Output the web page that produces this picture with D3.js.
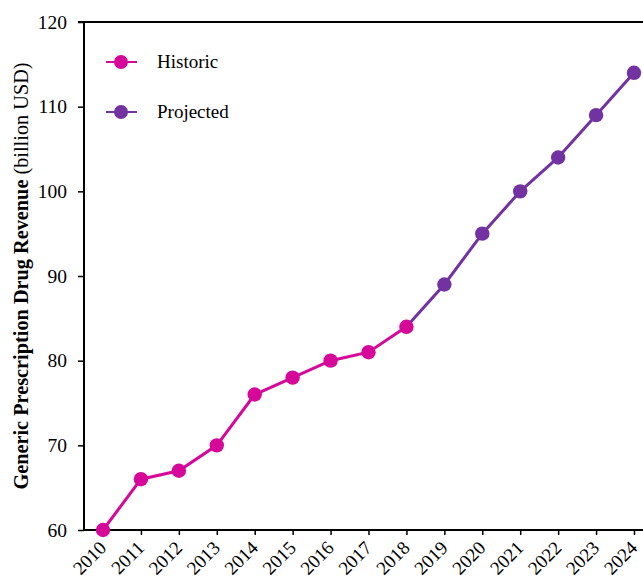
<!DOCTYPE html>
<html><head><meta charset="utf-8">
<script src="https://cdn.jsdelivr.net/npm/d3@7"></script>
<style>body{margin:0;background:#fff}svg{display:block}text{font-family:"Liberation Serif","Times New Roman",serif}</style>
</head><body>
<svg id="c" width="643" height="581"></svg>
<script>
const years = [2010,2011,2012,2013,2014,2015,2016,2017,2018,2019,2020,2021,2022,2023,2024];
const historicYears = [2010,2011,2012,2013,2014,2015,2016,2017,2018];
const historicValues = [60,66,67,70,76,78,80,81,84];
const projectedYears = [2018,2019,2020,2021,2022,2023,2024];
const projectedValues = [84,89,95,100,104,109,114];
const yTicks = [60,70,80,90,100,110,120];
const seriesNames = ["Historic","Projected"];
const colors = ["#d6089a","#7232a1"];

(function(){
const svg = d3.select("#c");
const mL=84, mT=22, mB=530, mR=672;
const x = d3.scalePoint().domain(years).range([103,634]);
const y = d3.scaleLinear().domain([60,120]).range([mB,mT]);

svg.append("line").attr("x1",mL).attr("x2",mR).attr("y1",mT).attr("y2",mT).attr("stroke","#000").attr("stroke-width",2);

const ya = svg.append("g").attr("transform",`translate(${mL},0)`).call(d3.axisLeft(y).tickValues(yTicks).tickSize(6).tickPadding(11));
ya.select(".domain").attr("stroke-width",2).attr("d",`M-6,${mT}H0V${mB}`);
ya.selectAll(".tick line").attr("stroke-width",1.5);
ya.selectAll(".tick text").attr("font-size",19.5).attr("fill","#000").style("font-family","Liberation Serif");

const xa = svg.append("g").attr("transform",`translate(0,${mB})`).call(d3.axisBottom(x).tickSize(5));
xa.select(".domain").attr("stroke-width",2).attr("d",`M${mL},0H${mR}`);
xa.selectAll(".tick line").attr("stroke-width",1.5);
xa.selectAll(".tick text").attr("font-size",19).attr("fill","#000").style("font-family","Liberation Serif")
  .attr("text-anchor","end").attr("dy","0").attr("y",0).attr("transform","translate(4,19) rotate(-45)");

const series = [
  {name:seriesNames[0], xs:historicYears, vs:historicValues, color:colors[0]},
  {name:seriesNames[1], xs:projectedYears, vs:projectedValues, color:colors[1]}
];
const line = d3.line().x(d=>x(d[0])).y(d=>y(d[1]));
[series[1], series[0]].forEach(s=>{
  const pts = s.xs.map((v,i)=>[v,s.vs[i]]);
  svg.append("path").datum(pts).attr("d",line).attr("fill","none").attr("stroke",s.color).attr("stroke-width",3);
  svg.selectAll(null).data(s.name==="Projected"?pts.slice(1):pts).enter().append("circle")
    .attr("cx",d=>x(d[0])).attr("cy",d=>y(d[1])).attr("r",7.2).attr("fill",s.color);
});

series.forEach((s,i)=>{
  const ly = 62 + i*50;
  svg.append("line").attr("x1",106).attr("x2",137).attr("y1",ly).attr("y2",ly).attr("stroke",s.color).attr("stroke-width",2);
  svg.append("circle").attr("cx",121).attr("cy",ly).attr("r",7).attr("fill",s.color);
  svg.append("text").attr("x",157).attr("y",ly+6).attr("font-size",19).text(s.name);
});

const yl = svg.append("text").attr("transform",`translate(28,${(mT+mB)/2}) rotate(-90)`).attr("text-anchor","middle").attr("font-size",20.3);
yl.append("tspan").attr("font-weight","bold").text("Generic Prescription Drug Revenue");
yl.append("tspan").text(" (billion USD)");
})();
</script>
</body></html>
